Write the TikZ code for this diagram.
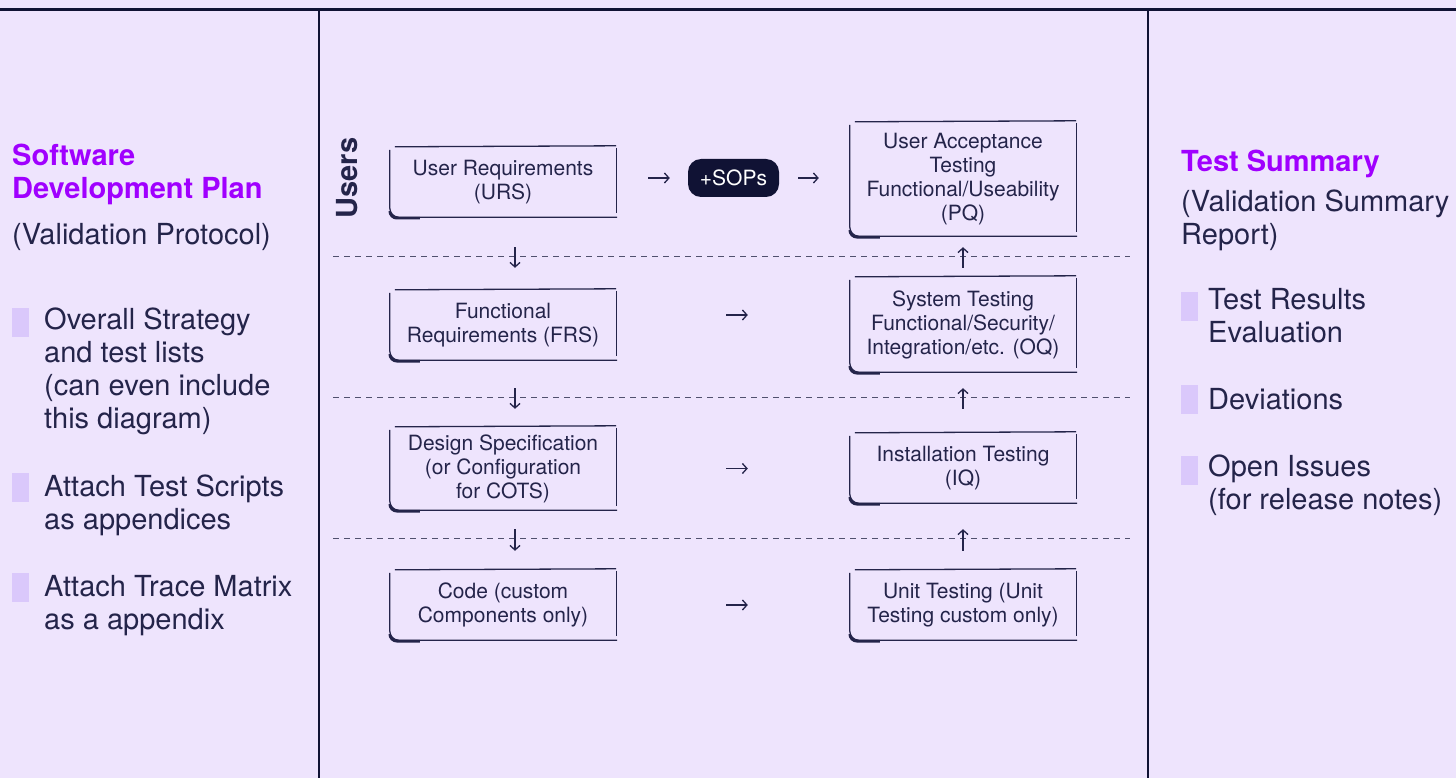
\documentclass[tikz,border=0pt]{standalone}
\usepackage{fontspec}
\setmainfont{TeX Gyre Heros}
\usepackage{tikz}
\usetikzlibrary{arrows.meta,positioning}

\definecolor{paper}{RGB}{238,228,253}
\definecolor{ink}{RGB}{36,36,74}
\definecolor{navy}{RGB}{16,18,52}
\definecolor{violet}{RGB}{160,0,255}
\definecolor{lilac}{RGB}{218,200,251}
\definecolor{dashgray}{RGB}{80,80,110}

\begin{document}
\begin{tikzpicture}[x=1pt, y=-1pt,
  skline/.style={draw=ink, line width=1.3pt},
  skbox/.style={text=ink, font=\fontsize{21}{24}\selectfont, align=center, minimum width=226pt, inner sep=0pt,
    append after command={
      ([xshift=5pt]\tikzlastnode.north west) edge[skline] ([yshift=1pt]\tikzlastnode.north east)
      ([yshift=-1pt]\tikzlastnode.north east) edge[skline] ([yshift=4pt]\tikzlastnode.south east)
      ([yshift=-3pt]\tikzlastnode.north west) edge[skline, rounded corners=9pt, to path={|- (\tikztotarget)}] ([xshift=1pt]\tikzlastnode.south east)
      ([yshift=5pt]\tikzlastnode.south west) edge[skline, line width=2.6pt, rounded corners=7pt, to path={|- (\tikztotarget)}] ([xshift=30pt,yshift=-1pt]\tikzlastnode.south west)
    }},
  pill/.style={fill=navy, text=white, rounded corners=13pt, minimum width=91pt, minimum height=38pt, inner sep=0pt, font=\fontsize{21}{24}\selectfont},
  flow/.style={draw=ink, line width=1.3pt, -{Straight Barb[length=4.5pt,width=10pt]}},
  divider/.style={draw=dashgray, line width=1pt, dash pattern=on 6pt off 5pt},
  frame/.style={draw=navy, line width=2.4pt},
  heading/.style={anchor=north west, inner sep=0pt, align=left, text=violet, font=\fontsize{29}{33}\selectfont\bfseries},
  sidetext/.style={anchor=north west, inner sep=0pt, align=left, text=ink, font=\fontsize{29}{33}\selectfont},
  bulletbox/.style={fill=lilac, minimum width=17pt, minimum height=29pt, inner sep=0pt}]

% Background and frame lines
\fill[paper] (0,0) rectangle (1456,778);
\useasboundingbox (0,0) rectangle (1456,778);
\draw[frame] (0,9.5) -- (1456,9.5);
\draw[frame] (319,9.5) -- (319,778);
\draw[frame] (1148,9.5) -- (1148,778);

% Left column: plan
\node[heading] (sdp) at (12,144) {Software\\Development Plan};
\node[sidetext] (vp) at (12,223) {(Validation Protocol)};
\node[bulletbox] (m1) at (20.5,322.5) {};
\node[sidetext] (b1) at (44,308) {Overall Strategy\\and test lists\\(can even include\\this diagram)};
\node[bulletbox] (m2) at (20.5,487.5) {};
\node[sidetext] (b2) at (44,475) {Attach Test Scripts\\as appendices};
\node[bulletbox] (m3) at (20.5,587.5) {};
\node[sidetext] (b3) at (44,575) {Attach Trace Matrix\\as a appendix};

% Middle: the V of specifications and tests
\node[rotate=90, text=ink, font=\fontsize{29}{29}\selectfont\bfseries] (users) at (347.5,178) {Users};

\node[skbox, minimum height=70pt] (urs) at (503,182) {User Requirements\\(URS)};
\node[skbox, minimum height=70pt] (frs) at (503,325) {Functional\\Requirements (FRS)};
\node[skbox, minimum height=83pt] (dsp) at (503,468.5) {Design Specification\\(or Configuration\\for COTS)};
\node[skbox, minimum height=70pt] (code) at (503,605) {Code (custom\\Components only)};

\node[pill] (sop) at (733.5,178) {+SOPs};

\node[skbox, minimum height=114pt] (uat) at (963,179) {User Acceptance\\Testing\\Functional/Useability\\(PQ)};
\node[skbox, minimum height=95pt] (sys) at (963,324.5) {System Testing\\Functional/Security/\\Integration/etc. (OQ)};
\node[skbox, minimum height=70pt] (inst) at (963,468) {Installation Testing\\(IQ)};
\node[skbox, minimum height=70pt] (unit) at (963,605) {Unit Testing (Unit\\Testing custom only)};

% dashed separators between levels
\draw[divider] (333,256) -- (1130,256);
\draw[divider] (333,397) -- (1130,397);
\draw[divider] (333,538) -- (1130,538);

% horizontal arrows
\draw[flow, shorten <=32pt, shorten >=18pt] (urs.east |- sop.west) -- (sop.west);
\draw[flow, shorten <=19pt, shorten >=31pt] (sop.east) -- (sop.east -| uat.west);
\draw[flow, shorten <=110pt, shorten >=102pt] ([yshift=10pt]frs.east) -- ([yshift=10pt]frs.east -| sys.west);
\draw[flow, shorten <=110pt, shorten >=102pt] (dsp.east) -- (dsp.east -| inst.west);
\draw[flow, shorten <=110pt, shorten >=102pt] (code.east) -- (unit.west);

% down the left side, up the right side
\draw[flow, shorten <=30pt, shorten >=22pt] ([xshift=12pt]urs.south) -- ([xshift=12pt]frs.north);
\draw[flow, shorten <=28pt, shorten >=18pt] ([xshift=12pt]frs.south) -- ([xshift=12pt]dsp.north);
\draw[flow, shorten <=19pt, shorten >=19pt] ([xshift=12pt]dsp.south) -- ([xshift=12pt]code.north);
\draw[flow, shorten <=9pt, shorten >=11pt] (sys.north) -- (uat.south);
\draw[flow, shorten <=24pt, shorten >=16pt] (inst.north) -- (sys.south);
\draw[flow, shorten <=19pt, shorten >=26pt] (unit.north) -- (inst.south);

% Right column: summary
\node[heading] (ts) at (1181,150) {Test Summary};
\node[sidetext] (vsr) at (1181,190) {(Validation Summary\\Report)};
\node[bulletbox] (n1) at (1189.5,306.5) {};
\node[sidetext] (r1) at (1208,288) {Test Results\\Evaluation};
\node[bulletbox] (n2) at (1189.5,399.5) {};
\node[sidetext] (r2) at (1208,388) {Deviations};
\node[bulletbox] (n3) at (1189.5,470.5) {};
\node[sidetext] (r3) at (1208,455) {Open Issues\\(for release notes)};

\end{tikzpicture}
\end{document}
